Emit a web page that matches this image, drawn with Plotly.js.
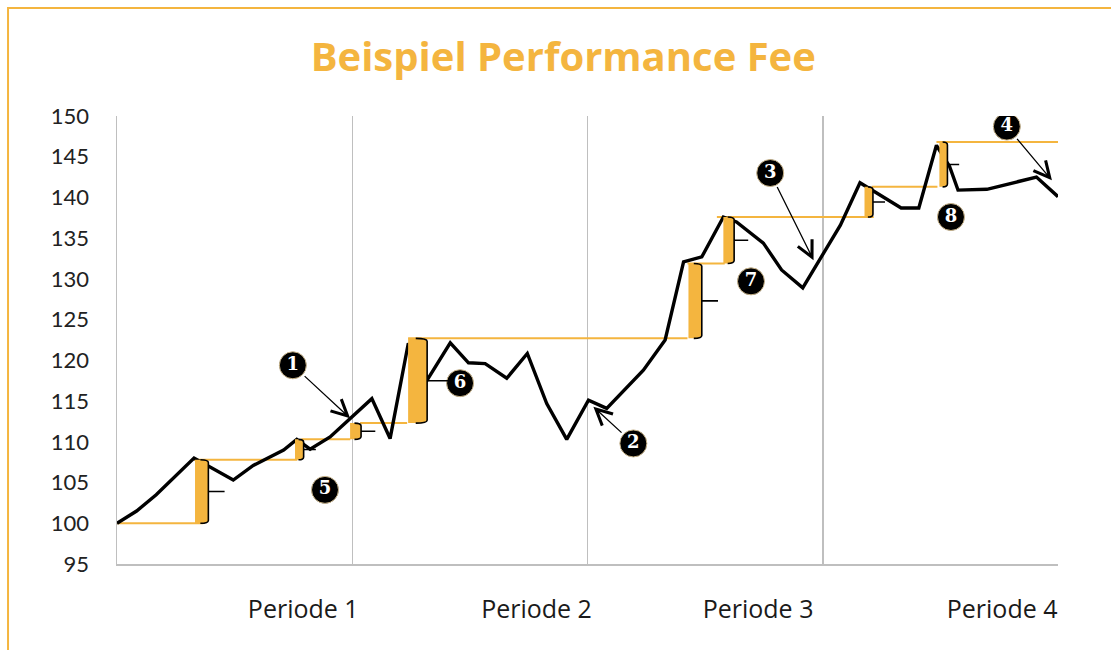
<!DOCTYPE html>
<html>
<head>
<meta charset="utf-8">
<script src="https://cdn.plot.ly/plotly-3.0.1.min.js"></script>
<style>
html,body{margin:0;padding:0;background:#fff;}
#chart{width:1111px;height:650px;}
</style>
</head>
<body>
<div id="chart"></div>
<script>
// ---------- DATA ----------
// Fund price path, x in months (0..48 = 4 periods of 12 months)
const navMonths = [0, 1, 2, 3, 3.93, 5.93, 6.95, 7.6, 8.5, 9.17, 9.85, 10.87, 11.9, 13.0, 13.93, 14.86, 15.85, 17.0, 17.93, 18.78, 19.88, 20.93, 21.92, 22.94, 24.05, 24.98, 26.85, 27.96, 28.9, 29.83, 30.93, 31.6, 32.97, 33.9, 34.98, 36.9, 37.9, 38.9, 40.0, 40.9, 41.8, 42.47, 42.9, 44.37, 45.56, 46.9, 48];
const navValues = [100, 101.5, 103.5, 105.9, 108.0, 105.3, 107.1, 107.9, 109.0, 110.3, 109.1, 110.6, 112.9, 115.3, 110.4, 122.1, 117.7, 122.15, 119.7, 119.6, 117.8, 120.85, 114.7, 110.3, 115.1, 114.1, 118.8, 122.5, 132.1, 132.7, 137.6, 137.0, 134.4, 131.1, 128.9, 136.6, 141.8, 140.3, 138.7, 138.7, 146.4, 143.8, 140.9, 141.0, 141.7, 142.5, 140.1];

// High-water marks (level, from month, to month)
const hwmLevels = [100, 107.8, 110.3, 112.3, 122.7, 131.9, 137.6, 141.3, 146.8];
const hwmStart  = [0, 3.9, 9.4, 12.4, 14.85, 29.1, 30.6, 38.5, 41.8];
const hwmEnd    = [4.4, 9.2, 11.9, 14.8, 29.1, 31.0, 38.6, 41.85, 48];

// Performance-fee braces (month span); each brace spans hwmLevels[i] -> hwmLevels[i+1]
const braceStart = [3.98, 9.08, 11.89, 14.85, 29.15, 30.93, 38.13, 41.95];
const braceEnd   = [4.66, 9.52, 12.45, 15.82, 29.83, 31.48, 38.56, 42.36];

// Numbered markers
const markerLabels = ['1', '2', '3', '4', '5', '6', '7', '8'];
const markerX = [8.97, 26.34, 33.32, 45.39, 10.61, 17.5, 32.34, 42.54];
const markerY = [119.4, 109.8, 143.0, 148.7, 104.1, 117.2, 129.7, 137.6];

// Arrow targets for markers 1..4
const arrowTargetX = [11.89, 24.3, 35.53, 47.69];
const arrowTargetY = [112.9, 114.3, 132.3, 142.1];

// Axis text
const periodLabels = ['Periode 1', 'Periode 2', 'Periode 3', 'Periode 4'];
const periodLabelAt = [9.5, 21.4, 32.7, 45.15];
const yTicks = [95, 100, 105, 110, 115, 120, 125, 130, 135, 140, 145, 150];
const chartTitle = 'Beispiel Performance Fee';

// ---------- STYLE ----------
const ORANGE = '#F4B53F';
const GRID = '#BFBFBF';

// High-water-mark lines as one trace with gaps
const hx = [], hy = [];
hwmLevels.forEach((lv, i) => {
  hx.push(hwmStart[i], hwmEnd[i], null);
  hy.push(lv, lv, null);
});

const traces = [
  {
    x: hx, y: hy, type: 'scatter', mode: 'lines',
    line: {color: ORANGE, width: 2}, hoverinfo: 'skip', showlegend: false
  },
  {
    x: navMonths, y: navValues, type: 'scatter', mode: 'lines',
    line: {color: '#000000', width: 3.4}, showlegend: false
  },
  {
    x: markerX, y: markerY, type: 'scatter', mode: 'markers+text',
    text: markerLabels, textposition: 'middle center',
    textfont: {family: 'DejaVu Serif', size: 18, color: '#ffffff', weight: 'bold'},
    marker: {size: 27, color: '#000000', line: {color: '#c9b48a', width: 1}},
    showlegend: false, hoverinfo: 'skip'
  }
];

// Braces as shapes built from the arrays
const shapes = [];
braceStart.forEach((x0, i) => {
  const x1 = braceEnd[i];
  const lo = hwmLevels[i];
  const hi = hwmLevels[i + 1];
  const w = x1 - x0;
  const cy = 0.35;
  const mid = (lo + hi) / 2;
  const tick = 0.85 * w + 0.25;
  shapes.push({
    type: 'path', xref: 'x', yref: 'y', layer: 'above',
    path: `M${x0},${lo} L${x0},${hi} L${x1 - 0.5 * w},${hi} Q${x1},${hi} ${x1},${hi - cy} L${x1},${lo + cy} Q${x1},${lo} ${x1 - 0.5 * w},${lo} Z`,
    fillcolor: ORANGE, line: {width: 0}
  });
  shapes.push({
    type: 'path', xref: 'x', yref: 'y', layer: 'above',
    path: `M${x1 - 0.6 * w},${hi} Q${x1},${hi} ${x1},${hi - cy} L${x1},${lo + cy} Q${x1},${lo} ${x1 - 0.6 * w},${lo} M${x1},${mid} L${x1 + tick},${mid}`,
    fillcolor: 'rgba(0,0,0,0)', line: {color: '#000000', width: 1.6}
  });
});

// outer orange frame
shapes.push({
  type: 'rect', xref: 'paper', yref: 'paper', layer: 'above',
  x0: -0.1158, x1: 1.2, y0: -0.4, y1: 1.241,
  line: {color: ORANGE, width: 2}, fillcolor: 'rgba(0,0,0,0)'
});

const annotations = arrowTargetX.map((tx, i) => ({
  x: tx, y: arrowTargetY[i], xref: 'x', yref: 'y',
  ax: markerX[i], ay: markerY[i], axref: 'x', ayref: 'y',
  text: '', showarrow: true, arrowhead: 5, arrowsize: 2.4, arrowwidth: 1.3,
  arrowcolor: '#000000', startstandoff: 14, standoff: 0
}));

const layout = {
  width: 1111, height: 650,
  margin: {l: 117, r: 53, t: 116, b: 86},
  paper_bgcolor: '#ffffff', plot_bgcolor: '#ffffff',
  title: {
    text: chartTitle,
    font: {family: 'Open Sans', size: 40, color: ORANGE, weight: 'bold'},
    x: 0.507, xanchor: 'center', xref: 'container',
    y: 0.913, yanchor: 'middle', yref: 'container'
  },
  xaxis: {
    range: [0, 48], showline: true, linecolor: GRID, linewidth: 1.5,
    tickmode: 'array', tickvals: periodLabelAt, ticktext: periodLabels,
    ticks: 'outside', ticklen: 22, tickcolor: 'rgba(0,0,0,0)',
    tickfont: {family: 'Open Sans', size: 25, color: '#1a1a1a'},
    showgrid: false, zeroline: false,
    minor: {tick0: 0, dtick: 12, showgrid: true, gridcolor: GRID, gridwidth: 1.5, ticks: ''}
  },
  yaxis: {
    range: [95, 150], showline: true, linecolor: GRID, linewidth: 1.5,
    tickmode: 'array', tickvals: yTicks,
    ticks: 'outside', ticklen: 22, tickcolor: 'rgba(0,0,0,0)',
    tickfont: {family: 'Lato', size: 22, color: '#222222'},
    showgrid: false, zeroline: false
  },
  shapes: shapes,
  annotations: annotations,
  showlegend: false
};

Plotly.newPlot('chart', traces, layout, {displayModeBar: false, staticPlot: true});
</script>
</body>
</html>
